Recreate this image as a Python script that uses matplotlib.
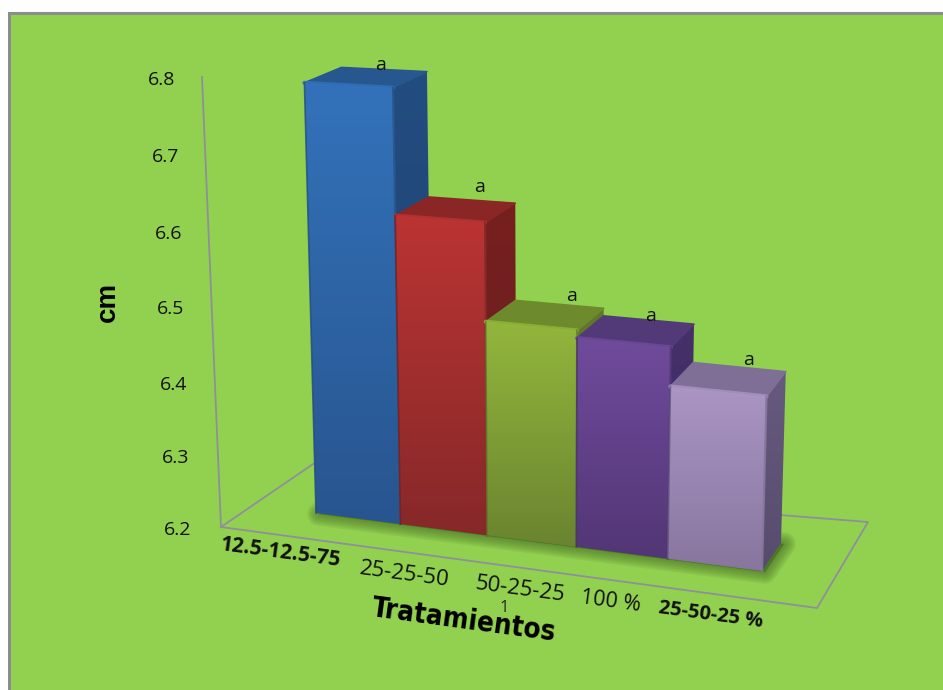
import numpy as np
import matplotlib
matplotlib.use("Agg")
import matplotlib.pyplot as plt
from matplotlib.colors import to_rgb
from matplotlib.patches import Polygon, Rectangle

# bar heights in cm
categories = ["12.5-12.5-75", "25-25-50", "50-25-25", "100 %", "25-50-25 %"]
values = [6.78, 6.61, 6.48, 6.47, 6.42]
sig_letters = ["a", "a", "a", "a", "a"]
y_ticks = [6.2, 6.3, 6.4, 6.5, 6.6, 6.7, 6.8]

BG = "#92d14f"
GRID = "#8f8f9c"
FONT = ["Open Sans", "DejaVu Sans"]

# front colour top/bottom, side colour top/bottom, top face
PALETTE = [
    ("#3372ba", "#28558f", "#234c80", "#1f4272", "#28578f"),
    ("#ba3433", "#872829", "#772020", "#671d1e", "#8b2626"),
    ("#92b63c", "#6b8430", "#61782a", "#566a25", "#6d8a2d"),
    ("#704b9c", "#523675", "#46306a", "#3e2a5e", "#523a78"),
    ("#aa95c3", "#88769f", "#665a7e", "#574c6e", "#7f6f97"),
]

Y_MIN, Y_MAX = 6.2, 6.8

# floor outline of the 3-D box, and the corner the value axis rises from
floor_px = [(221, 527), (817, 608), (868, 522), (780, 515)]
axis_base = np.array([221.0, 527.0])
axis_top = np.array([202.0, 77.0])

# footprint of the row of bars, and how the full value height changes across it
footprint_px = np.array([(316, 513), (762, 571), (781, 543), (351, 489)], float)
FULL_HEIGHT = 445.0
GROW_U, SHRINK_V = 0.07, 0.02
VANISH = (545.0, 9000.0)


def floor_homography(px):
    src = [(0, 0), (1, 0), (1, 1), (0, 1)]
    rows, rhs = [], []
    for (u, v), (x, y) in zip(src, px):
        rows.append([u, v, 1, 0, 0, 0, -u * x, -v * x])
        rows.append([0, 0, 0, u, v, 1, -u * y, -v * y])
        rhs += [x, y]
    return np.append(np.linalg.solve(np.array(rows), np.array(rhs)), 1.0).reshape(3, 3)


H = floor_homography(footprint_px)


def project(u, v, val=Y_MIN):
    p = H @ np.array([u, v, 1.0])
    x, y = p[0] / p[2], p[1] / p[2]
    rise = (val - Y_MIN) / (Y_MAX - Y_MIN) * FULL_HEIGHT * (1 + GROW_U * u - SHRINK_V * v)
    return x + (x - VANISH[0]) / (VANISH[1] - y) * rise, y - rise


def gradient_face(ax, pts, top, bottom, zorder):
    pts = np.array(pts)
    x0, y0 = pts.min(axis=0)
    x1, y1 = pts.max(axis=0)
    ramp = np.linspace(0, 1, 64)[:, None, None]
    img = (1 - ramp) * np.array(to_rgb(top)) + ramp * np.array(to_rgb(bottom))
    im = ax.imshow(img, extent=(x0, x1, y1, y0), aspect="auto", zorder=zorder,
                   interpolation="bilinear")
    clip = Polygon(pts, closed=True, transform=ax.transData, fc="none", ec="none")
    ax.add_patch(clip)
    im.set_clip_path(clip)


def draw_bar(ax, u0, u1, val, colors, zorder):
    front_top, front_bot, side_top, side_bot, lid = colors
    fl, fr = project(u0, 0), project(u1, 0)
    br = project(u1, 1)
    tfl, tfr = project(u0, 0, val), project(u1, 0, val)
    tbl, tbr = project(u0, 1, val), project(u1, 1, val)

    gradient_face(ax, [tfr, tbr, br, fr], side_top, side_bot, zorder)
    ax.add_patch(Polygon([tfl, tbl, tbr, tfr], closed=True, fc=lid, ec=lid, lw=1.2,
                         joinstyle="round", zorder=zorder))
    gradient_face(ax, [tfl, tfr, fr, fl], front_top, front_bot, zorder + 0.1)

    # bevelled edges round the front face
    ax.plot(*zip(tfl, tfr), color=front_top, lw=3.0, alpha=0.8, zorder=zorder + 0.2,
            solid_capstyle="round")
    ax.plot(*zip(tfr, fr), color=front_bot, lw=1.6, alpha=0.9, zorder=zorder + 0.2)
    ax.plot(*zip(tfl, fl), color=side_top, lw=1.2, alpha=0.8, zorder=zorder + 0.2)


fig = plt.figure(figsize=(9.43, 6.9), dpi=100, facecolor="white")
ax = fig.add_axes([0, 0, 1, 1])
ax.set_axis_off()

ax.add_patch(Rectangle((8.5, 12.5), 960, 700, fc=BG, ec="#8c8c8c", lw=2.2, zorder=0))

# floor outline (the far left corner sits behind the bars) and the value axis
ax.plot(*zip(*floor_px), color=GRID, lw=1.3, zorder=1)
ax.plot([floor_px[0][0], 316], [floor_px[0][1], 462], color=GRID, lw=1.3, zorder=1)
ax.plot(*zip(axis_base, axis_top), color=GRID, lw=1.3, zorder=1)

tick_xy = [(178, 530), (176, 458), (174, 385), (171, 309), (169, 234), (166, 157), (162, 80)]
for tick, (x, y) in zip(y_ticks, tick_xy):
    ax.text(x, y, f"{tick:.1f}", fontsize=14, family=FONT, color="#111111",
            ha="center", va="center", zorder=20)

# soft shadow under the bars, nudged towards the lower right
shadow = [(x + 3, y + 1) for x, y in (project(0, 0), project(1, 0), project(1, 1), project(0, 1))]
for lw in np.arange(2, 18, 2.5):
    ax.add_patch(Polygon(shadow, closed=True, fc="#3f5f22", ec="#3f5f22", lw=lw, alpha=0.1,
                         joinstyle="round", zorder=2))

edges = np.linspace(0, 1, len(values) + 1)
letter_dx = [-3, 8, 12, 2, 9]
letter_dy = [4, -4, 1, 5, 2]
for i, val in enumerate(values):
    draw_bar(ax, edges[i], edges[i + 1], val, PALETTE[i], 3 + i)
    x, y = project((edges[i] + edges[i + 1]) / 2, 1, val)
    ax.text(x + letter_dx[i], y + letter_dy[i], sig_letters[i], fontsize=14, family=FONT,
            color="#111111", ha="center", va="bottom", zorder=20)

# category labels follow the slope of the front floor edge
label_xy = [(281, 553), (404, 575), (520, 590), (611, 602), (711, 615)]
label_size = [15, 16, 16, 15.5, 14.5]
label_bold = [True, False, False, False, True]
for name, (x, y), size, bold in zip(categories, label_xy, label_size, label_bold):
    ax.text(x, y, name, fontsize=size, family=FONT,
            fontweight="bold" if bold else "normal", color="#111111", rotation=-7.7,
            rotation_mode="anchor", ha="center", va="center", zorder=20)

ax.text(504, 608, "1", fontsize=12, family=FONT, color="#222222", ha="center", va="center",
        zorder=20)
ax.text(464, 621, "Tratamientos", fontsize=20, family="DejaVu Sans", stretch="condensed",
        fontweight="bold", color="black", rotation=-7.7, rotation_mode="anchor",
        ha="center", va="center", zorder=20)
ax.text(108, 302, "cm", fontsize=20, family=["Liberation Sans", "DejaVu Sans"], fontweight="bold",
        color="black", rotation=90, ha="center", va="center", zorder=20)

ax.set_xlim(0, 943)
ax.set_ylim(690, 0)
fig.savefig("out.png", dpi=100)
